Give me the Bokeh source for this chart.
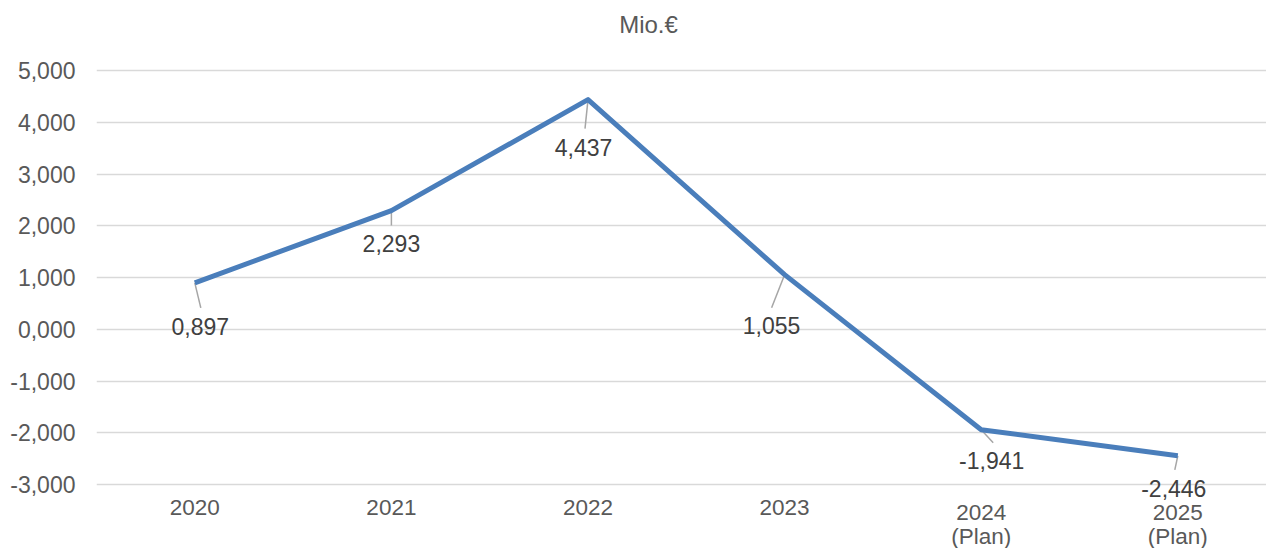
from bokeh.plotting import figure
from bokeh.models import ColumnDataSource, Range1d, FixedTicker
from bokeh.core.properties import value
from bokeh.embed import file_html
from bokeh.resources import INLINE

# ---- data ----
categories = ["2020", "2021", "2022", "2023", "2024\n(Plan)", "2025\n(Plan)"]
values = [0.897, 2.293, 4.437, 1.055, -1.941, -2.446]
y_ticks = [-3, -2, -1, 0, 1, 2, 3, 4, 5]
title_text = "Mio.\u20ac"

# ---- styles (label placement in screen pixels, down = positive) ----
label_dx = [5.5, 0, -4.5, -13, 10.5, -4]
label_dy = [43.5, 33, 47.5, 50.5, 31, 32.5]
leader_dx = [6, 0, -3, -13, 12, -3]
leader_dy = [25, 15, 29, 33, 13, 14]

FONT = "Liberation Sans"
W, H = 1266, 548
BL = 96
grid_top_px, grid_bot_px = 70, 484   # pixel rows of the 5,000 and -3,000 gridlines
frame_w = W - BL
cat_px = 196.6
x0 = -0.5
x1 = x0 + frame_w / cat_px
g0, g1 = y_ticks[0], y_ticks[-1]
px_y = (grid_bot_px - grid_top_px) / (g1 - g0)
y_start = g0 - (H - grid_bot_px) / px_y
y_end = g1 + grid_top_px / px_y
px_x = cat_px

idx = list(range(len(categories)))

p = figure(width=W, height=H, output_backend="svg", toolbar_location=None,
           x_range=Range1d(x0, x1), y_range=Range1d(y_start, y_end),
           x_axis_location=None,
           min_border_left=BL, min_border_right=0, min_border_top=0,
           min_border_bottom=0, title=None)
p.outline_line_color = None
p.background_fill_color = "white"
p.border_fill_color = "white"

# y axis
p.yaxis.ticker = FixedTicker(ticks=y_ticks)
p.yaxis.major_label_overrides = {float(v): f"{v:.3f}".replace(".", ",") for v in y_ticks}
ax = p.yaxis[0]
ax.axis_line_color = None
ax.major_tick_line_color = None
ax.minor_tick_line_color = None
ax.major_tick_out = 0
ax.major_tick_in = 0
ax.major_label_text_font = FONT
ax.major_label_text_font_size = "23px"
ax.major_label_text_color = "#595959"
ax.major_label_standoff = 21

p.xgrid.grid_line_color = None
p.ygrid.ticker = FixedTicker(ticks=y_ticks)
p.ygrid.grid_line_color = "#D9D9D9"
p.ygrid.grid_line_width = 1.5

# category labels (x axis)
p.text(x=idx, y=[g0] * len(idx), text=categories, y_offset=15,
       text_align="center", text_baseline="top", text_line_height=0.98,
       text_font=value(FONT), text_font_size=value("22.5px"), text_color="#595959")

# title
p.text(x=[x0 + (648 - BL) / px_x], y=[g1], text=[title_text], y_offset=-46,
       text_align="center", text_baseline="middle",
       text_font=value(FONT), text_font_size=value("24px"), text_color="#595959")

# leader lines
seg = ColumnDataSource(dict(
    x0=idx, y0=values,
    x1=[i + dx / px_x for i, dx in zip(idx, leader_dx)],
    y1=[v - dy / px_y for v, dy in zip(values, leader_dy)],
))
p.segment("x0", "y0", "x1", "y1", source=seg, line_color="#A6A6A6", line_width=1.5)

# main line
p.line(idx, values, line_color="#4A7EBB", line_width=5, line_join="round")

# data labels
lab = ColumnDataSource(dict(
    x=idx, y=values,
    text=[f"{v:.3f}".replace(".", ",") for v in values],
    xo=label_dx, yo=label_dy,
))
p.text("x", "y", text="text", source=lab, x_offset="xo", y_offset="yo",
       text_align="center", text_baseline="middle",
       text_font=value(FONT), text_font_size=value("23px"), text_color="#404040")

open("out.html", "w").write(file_html(p, INLINE))
